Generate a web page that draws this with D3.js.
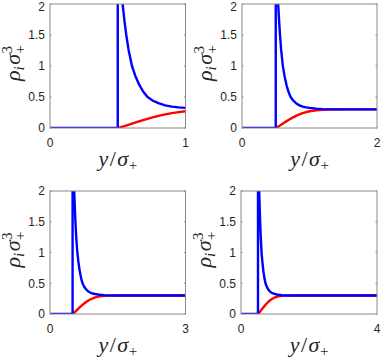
<!DOCTYPE html>
<html><head><meta charset="utf-8">
<script src="https://cdn.jsdelivr.net/npm/d3@7/dist/d3.min.js"></script>
<style>
html,body{margin:0;padding:0;background:#fff;}
svg{display:block;}
</style></head>
<body><svg id="c" width="381" height="358"></svg>
<script>
// ---- data ----
const blueY   = [0, 0.5, 0.5, 0.505, 0.515, 0.525, 0.536, 0.55, 0.563, 0.58, 0.605, 0.63, 0.66, 0.69, 0.72, 0.76, 0.8, 0.85, 0.9, 0.95, 1.0, 1.1, 1.2, 1.4, 1.7, 4.0];
const blueRho = [0, 0,   12,  8,     3.6,   2.5,   2.0,   1.72, 1.5,   1.26, 1.0,   0.84, 0.69, 0.58, 0.5,  0.44, 0.4, 0.365, 0.345, 0.333, 0.325, 0.312, 0.305, 0.301, 0.3, 0.3];
const redY    = [0.5, 0.55, 0.6, 0.65, 0.7, 0.75, 0.8, 0.85, 0.9, 0.95, 1.0, 1.1, 1.2, 1.3, 1.5, 4.0];
const redRho  = [0,   0.03, 0.068, 0.103, 0.136, 0.167, 0.195, 0.22, 0.24, 0.256, 0.27, 0.287, 0.295, 0.299, 0.3, 0.3];
const xMaxes  = [1, 2, 3, 4];
const yTicks  = [0, 0.5, 1, 1.5, 2];
const yTickLabels = ["0", "0.5", "1", "1.5", "2"];

const panels = [
  {x0: 50,  x1: 185.5, y0: 4,   y1: 128},
  {x0: 242, x1: 377,   y0: 4,   y1: 128},
  {x0: 50,  x1: 185.5, y0: 191, y1: 314},
  {x0: 241, x1: 377,   y0: 191, y1: 314}
];

const svg = d3.select("#c");
const tickFont = "'Liberation Sans', Arial, Helvetica, sans-serif";
const mathFont = "'Liberation Serif', 'Times New Roman', serif";
const tickSize = 12;

panels.forEach((p, i) => {
  const xMax = xMaxes[i];
  const x = d3.scaleLinear().domain([0, xMax]).range([p.x0, p.x1]);
  const y = d3.scaleLinear().domain([0, 2]).range([p.y1, p.y0]);
  const g = svg.append("g");
  const cid = "clip" + i;
  svg.append("clipPath").attr("id", cid).append("rect")
    .attr("x", p.x0).attr("y", p.y0).attr("width", p.x1 - p.x0).attr("height", p.y1 - p.y0);

  const line = d3.line().x(d => x(d[0])).y(d => y(d[1]));
  const plot = g.append("g").attr("clip-path", `url(#${cid})`);
  plot.append("path").datum(d3.zip(redY, redRho))
    .attr("d", line).attr("fill", "none").attr("stroke", "#ff0000")
    .attr("stroke-width", 2.4).attr("stroke-linejoin", "round");
  plot.append("path").datum(d3.zip(blueY, blueRho))
    .attr("d", line).attr("fill", "none").attr("stroke", "#0000ff")
    .attr("stroke-width", 2.4).attr("stroke-linejoin", "round");

  // box
  g.append("rect").attr("x", p.x0).attr("y", p.y0)
    .attr("width", p.x1 - p.x0).attr("height", p.y1 - p.y0)
    .attr("fill", "none").attr("stroke", "#8a8a8a").attr("stroke-width", 1);

  // y ticks
  yTicks.forEach((t, k) => {
    g.append("line").attr("x1", p.x0).attr("x2", p.x0 + 1.5)
      .attr("y1", y(t)).attr("y2", y(t)).attr("stroke", "#8a8a8a");
    g.append("line").attr("x1", p.x1).attr("x2", p.x1 - 1.5)
      .attr("y1", y(t)).attr("y2", y(t)).attr("stroke", "#8a8a8a");
    g.append("text").attr("x", p.x0 - 5).attr("y", Math.max(y(t) + 4.3, 11))
      .attr("text-anchor", "end")
      .attr("font-family", tickFont).attr("font-size", tickSize).attr("fill", "#262626")
      .text(yTickLabels[k]);
  });
  // x ticks
  [0, xMax].forEach(t => {
    g.append("text").attr("x", x(t)).attr("y", p.y1 + 18.5)
      .attr("text-anchor", "middle")
      .attr("font-family", tickFont).attr("font-size", tickSize).attr("fill", "#262626")
      .text(String(t));
  });

  // x label: y/σ_+
  const cx = (p.x0 + p.x1) / 2;
  const xl = g.append("text").attr("y", p.y1 + 38)
    .attr("font-family", mathFont).attr("font-size", 22).attr("fill", "#262626");
  xl.append("tspan").attr("font-style", "italic").text("y");
  xl.append("tspan").attr("dx", 1.5).text("/");
  xl.append("tspan").attr("dx", 1.5).attr("font-style", "italic").text("σ");
  xl.append("tspan").attr("font-size", 15).attr("dy", 4).attr("dx", 0.5).text("+");
  const wx = xl.node().getComputedTextLength() + 3.5;
  xl.attr("x", cx - wx / 2);

  // y label: ρ_i σ^3_+
  const cy = (p.y0 + p.y1) / 2;
  const lg = g.append("g").attr("transform", `translate(${p.x0 - 30},${cy - 3}) rotate(-90)`);
  const parts = [];
  let cur = 0;
  function piece(txt, size, italic, dy) {
    const t = lg.append("text").attr("x", cur).attr("y", dy)
      .attr("font-family", mathFont).attr("font-size", size)
      .attr("font-style", italic ? "italic" : "normal").attr("fill", "#262626").text(txt);
    const w = t.node().getComputedTextLength();
    parts.push(t);
    return w;
  }
  cur += piece("ρ", 22, true, 0);
  cur += piece("i", 15, true, 4) + 1.5;
  cur += piece("σ", 22, true, 0) + 0.5;
  const w3 = piece("3", 15, false, -8);
  const wp = piece("+", 15, false, 5);
  cur += Math.max(w3, wp);
  parts.forEach(t => t.attr("x", +t.attr("x") - cur / 2));
});
</script>
</body></html>
